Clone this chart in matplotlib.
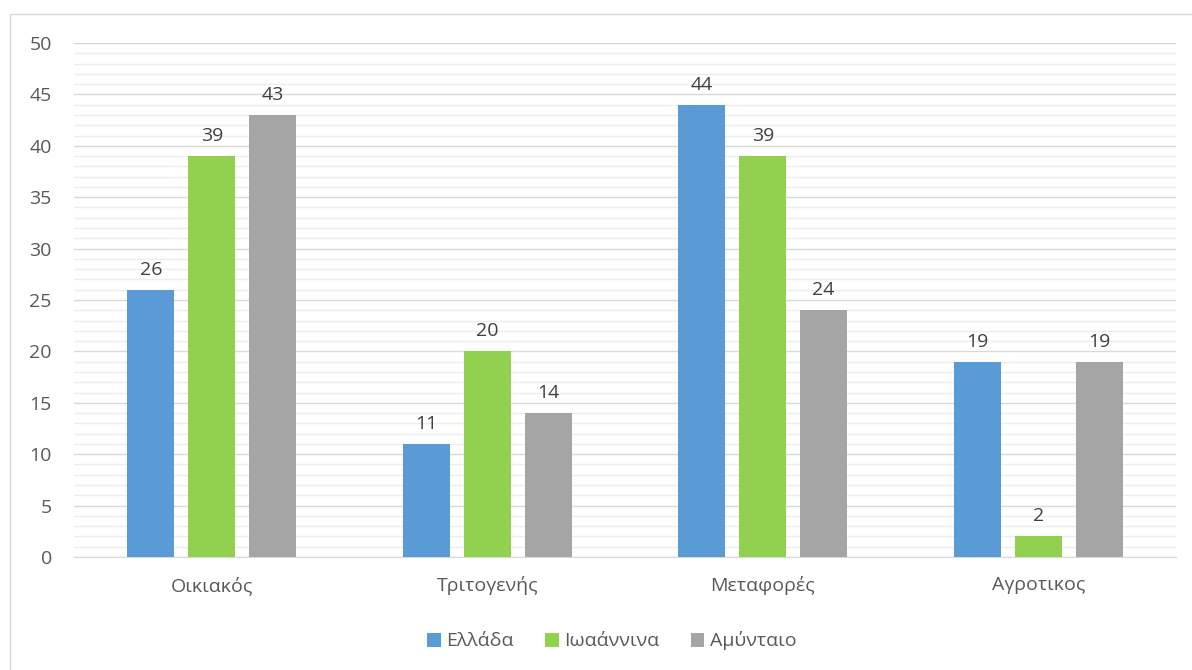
import matplotlib.pyplot as plt
import numpy as np
from matplotlib.patches import Rectangle

plt.rcParams['font.family'] = ['Open Sans', 'DejaVu Sans']

categories = ['Οικιακός', 'Τριτογενής', 'Μεταφορές', 'Αγροτικος']
series = ['Ελλάδα', 'Ιωαάννινα', 'Αμύνταιο']
ellada = [26, 11, 44, 19]
ioannina = [39, 20, 39, 2]
amyntaio = [43, 14, 24, 19]
colors = ['#5B9BD5', '#92D050', '#A5A5A5']

fig = plt.figure(figsize=(11.92, 6.7), dpi=100)
fig.patches.append(Rectangle((10 / 1192, -0.05), 1.2, 1.05 - 14 / 670,
                             transform=fig.transFigure, fill=False,
                             edgecolor='#D9D9D9', linewidth=1))
ax = fig.add_axes([74 / 1192, 1 - 557 / 670, 1102 / 1192, 514 / 670])

x = np.arange(len(categories))
w = 0.171
step = 0.221
for i, (vals, name) in enumerate(zip([ellada, ioannina, amyntaio], series)):
    bars = ax.bar(x + (i - 1) * step, vals, w, color=colors[i], label=name, zorder=3)
    for b, v in zip(bars, vals):
        ax.annotate(str(v), (b.get_x() + b.get_width() / 2, v), xytext=(0, 8),
                    textcoords='offset points', ha='center', va='bottom',
                    fontsize=14, color='#404040')

ax.set_xlim(-0.5, 3.5)
ax.set_ylim(0, 50)
ax.set_yticks(range(0, 51, 5))
ax.set_yticks(range(0, 51, 1), minor=True)
ax.grid(True, axis='y', which='major', color='#D9D9D9', linewidth=1, zorder=0)
ax.grid(True, axis='y', which='minor', color='#EDEDED', linewidth=1, zorder=0)
ax.set_xticks(x)
ax.set_xticklabels(categories)
ax.tick_params(axis='both', which='both', length=0, labelsize=14, labelcolor='#595959')
ax.tick_params(axis='x', pad=14)
ax.tick_params(axis='y', pad=16)
for s in ['top', 'right', 'left']:
    ax.spines[s].set_visible(False)
ax.spines['bottom'].set_color('#D9D9D9')

leg = fig.legend(loc='center', bbox_to_anchor=(612 / 1192, 1 - 641 / 670), ncol=3,
                 frameon=False, fontsize=14, handlelength=0.7, handleheight=0.7,
                 handletextpad=0.3, columnspacing=1.6)
for t in leg.get_texts():
    t.set_color('#595959')

fig.savefig('out.png', dpi=100)
